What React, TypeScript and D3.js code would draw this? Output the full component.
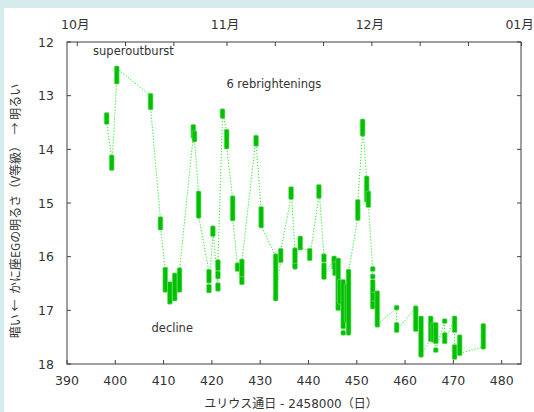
import React from "react";
import * as d3 from "d3";

// Observation segments (nightly runs): JD-2458000, magnitude at start, magnitude at end
const segJD = [
  398.2, 399.25, 400.3, 407.3, 409.35, 410.35, 411.3, 412.3, 413.3, 416.15,
  416.4, 417.25, 419.4, 419.4, 420.2, 421.25, 421.25, 421.25, 422.2, 423.05,
  424.3, 425.3, 426.2, 426.2, 429.15, 430.2, 433.2, 434.25, 436.4, 437.2,
  437.2, 438.3, 440.25, 442.15, 443.2, 443.2, 445.3, 445.5, 446.15, 446.5,
  447.2, 447.2, 447.9, 448.3, 450.2, 451.2, 452.05, 452.4, 453.3, 453.3,
  453.3, 453.3, 453.3, 454.25, 458.25, 458.25, 462.2, 463.3, 465.3, 465.85,
  466.35, 466.35, 468.2, 468.2, 470.25, 470.25, 471.3, 476.2,
];
const segMagStart = [
  13.36, 14.15, 12.74, 13.0, 15.3, 16.24, 16.51, 16.78, 16.62, 13.75,
  13.7, 14.82, 16.28, 16.56, 15.58, 16.6, 16.37, 16.22, 13.38, 13.67,
  14.91, 16.16, 16.48, 16.33, 13.78, 15.11, 15.99, 16.07, 14.89, 15.88,
  16.17, 15.66, 15.89, 14.87, 15.99, 16.16, 16.03, 16.14, 16.07, 16.84,
  16.47, 17.42, 17.18, 17.42, 15.28, 13.71, 14.54, 14.82, 16.23, 16.37,
  16.47, 16.71, 16.87, 16.68, 16.95, 17.27, 16.96, 17.15, 17.54, 17.27,
  17.27, 17.74, 17.2, 17.46, 17.15, 17.68, 17.5, 17.68,
];
const segMagEnd = [
  13.49, 14.35, 12.49, 13.22, 15.46, 16.62, 16.84, 16.35, 16.25, 13.58,
  13.82, 15.24, 16.45, 16.63, 15.47, 16.53, 16.31, 16.1, 13.29, 13.95,
  15.29, 16.23, 16.4, 16.09, 13.9, 15.42, 16.78, 15.89, 14.74, 16.12,
  16.19, 15.83, 16.03, 14.7, 16.06, 16.38, 16.19, 16.31, 16.96, 16.47,
  17.3, 17.42, 16.56, 16.28, 14.98, 13.48, 14.94, 15.04, 16.23, 16.37,
  16.65, 16.81, 16.93, 17.27, 16.95, 17.37, 17.35, 17.83, 17.15, 17.55,
  17.58, 17.74, 17.2, 17.58, 17.37, 17.87, 17.8, 17.29,
];

const xTicks = [390, 400, 410, 420, 430, 440, 450, 460, 470, 480];
const yTicks = [12, 13, 14, 15, 16, 17, 18];
const monthTickDates = [
  "2018-10-01", "2018-10-11", "2018-10-21", "2018-11-01", "2018-11-11",
  "2018-11-21", "2018-12-01", "2018-12-11", "2018-12-21", "2019-01-01",
];
const monthTickLabels = ["10月", "", "", "11月", "", "", "12月", "", "", "01月"];

const annotations = ["superoutburst", "6 rebrightenings", "decline"];
const annotationJD = [395.4, 423.0, 407.5];
const annotationMag = [12.25, 12.85, 17.4];

const yTitle = "暗い ←  かに座EGの明るさ（V等級）  → 明るい";
const xTitle = "ユリウス通日 - 2458000（日）";

const W = 534;
const H = 412;
const M = { left: 67, right: 521, top: 42, bottom: 364 };

const dateToJD = (s: string) =>
  Date.parse(s + "T00:00:00+09:00") / 86400000 + 2440587.5 - 2458000;

export default function App() {
  const x = d3.scaleLinear().domain([390, 484]).range([M.left, M.right]);
  const y = d3.scaleLinear().domain([12, 18]).range([M.top, M.bottom]);

  const pts: [number, number][] = [];
  segJD.forEach((jd, i) => {
    pts.push([jd, segMagStart[i]]);
    pts.push([jd, segMagEnd[i]]);
  });
  const line = d3
    .line<[number, number]>()
    .x((d) => x(d[0]))
    .y((d) => y(d[1]));

  const axisColor = "#404040";
  const textColor = "#333";
  const latin = "'DejaVu Sans', 'Noto Sans CJK JP', sans-serif";
  const cjk = "'Noto Sans CJK JP', 'DejaVu Sans', sans-serif";
  const bw = 4.8;

  return (
    <svg
      width={W}
      height={H}
      style={{ position: "absolute", left: 0, top: 0 }}
      xmlns="http://www.w3.org/2000/svg"
    >
      <rect x={0} y={0} width={W} height={H} fill="#d5ebee" />
      <rect x={4} y={8} width={W - 4} height={H - 8} fill="#ffffff" />

      {/* dotted connecting line */}
      <path
        d={line(pts) || ""}
        fill="none"
        stroke="#22ee22"
        strokeWidth={1}
        strokeDasharray="1.2,1.8"
      />

      {/* observation bars */}
      {segJD.map((jd, i) => {
        const lo = Math.min(segMagStart[i], segMagEnd[i]);
        const hi = Math.max(segMagStart[i], segMagEnd[i]);
        const y0 = y(lo) - bw / 2;
        const h = y(hi) - y(lo) + bw;
        return (
          <rect
            key={i}
            x={x(jd) - bw / 2}
            y={y0}
            width={bw}
            height={h}
            rx={1.2}
            fill="#00c000"
            stroke="#7ede7e"
            strokeWidth={0.6}
          />
        );
      })}

      {/* frame */}
      <rect
        x={M.left}
        y={M.top}
        width={M.right - M.left}
        height={M.bottom - M.top}
        fill="none"
        stroke={axisColor}
        strokeWidth={1}
      />

      {/* bottom ticks */}
      {xTicks.map((t) => (
        <g key={"xt" + t}>
          <line x1={x(t)} x2={x(t)} y1={M.bottom} y2={M.bottom - 4} stroke={axisColor} />
          <text
            x={x(t)}
            y={M.bottom + 21}
            textAnchor="middle"
            fontFamily={latin}
            fontSize={12.5}
            fill={textColor}
          >
            {t}
          </text>
        </g>
      ))}

      {/* left / right ticks */}
      {yTicks.map((t) => (
        <g key={"yt" + t}>
          <line x1={M.left} x2={M.left + 4} y1={y(t)} y2={y(t)} stroke={axisColor} />
          <line x1={M.right} x2={M.right - 4} y1={y(t)} y2={y(t)} stroke={axisColor} />
          <text
            x={M.left - 13}
            y={y(t)}
            dy="0.36em"
            textAnchor="end"
            fontFamily={latin}
            fontSize={12.5}
            fill={textColor}
          >
            {t}
          </text>
        </g>
      ))}

      {/* top month ticks */}
      {monthTickDates.map((s, i) => {
        const jd = dateToJD(s);
        const px = x(jd);
        return (
          <g key={"mt" + s}>
            <line x1={px} x2={px} y1={M.top} y2={M.top + 4} stroke={axisColor} />
            {monthTickLabels[i] && (
              <text
                x={px - 2}
                y={M.top - 13}
                textAnchor="middle"
                fontFamily={latin}
                fontSize={12.5}
                fill={textColor}
              >
                {monthTickLabels[i]}
              </text>
            )}
          </g>
        );
      })}

      {/* annotations */}
      {annotations.map((a, i) => (
        <text
          key={a}
          x={x(annotationJD[i])}
          y={y(annotationMag[i])}
          fontFamily={latin}
          fontSize={11.5}
          fill={textColor}
        >
          {a}
        </text>
      ))}

      {/* axis titles */}
      <text
        x={291}
        y={408}
        textAnchor="middle"
        fontFamily={latin}
        fontSize={12}
        fill={textColor}
        style={{ whiteSpace: "pre" }}
      >
        {xTitle}
      </text>
      <text
        transform={`translate(14, ${(M.top + M.bottom) / 2 + 8}) rotate(-90)`}
        textAnchor="middle"
        dominantBaseline="central"
        fontFamily={cjk}
        fontSize={12}
        fill={textColor}
        style={{ whiteSpace: "pre" }}
      >
        {yTitle}
      </text>
    </svg>
  );
}
